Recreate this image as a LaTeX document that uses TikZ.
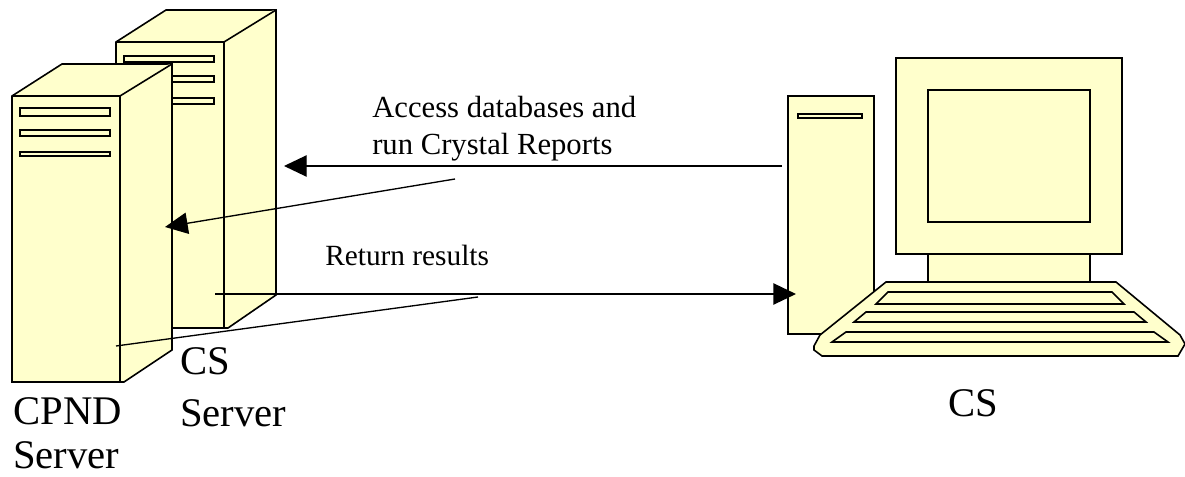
\documentclass[tikz,border=0pt]{standalone}
\usepackage{fontspec}
\setmainfont{Liberation Serif}
\usetikzlibrary{positioning,arrows.meta}

\begin{document}
\begin{tikzpicture}[x=0.75pt,y=-0.75pt,line join=miter,
    part/.style={draw=black, fill=cream, line width=1.2pt},
    slot/.style={draw=black, fill=cream, line width=1.2pt},
    link/.style={draw=black, line width=1pt},
    >={Triangle[length=17pt,width=16pt]},
    smalltag/.style={inner sep=0pt, align=left, anchor=north west, font=\fontsize{23}{28}\selectfont},
    bigtag/.style={inner sep=0pt, align=left, anchor=north west, font=\fontsize{30.5}{37.5}\selectfont}]
        \definecolor{cream}{HTML}{FFFFCC}
        \useasboundingbox (0,0) rectangle (1185,477);

        % CS server
        \draw[part] (116,42) -- (166,10) -- (276,10) -- (276,295) -- (228,328) -- (116,328) -- cycle;
        \draw[part] (116,42) -- (224,42) -- (276,10);
        \draw[part] (224,42) -- (224,328);
        \draw[slot] (124,56) rectangle (214,62);
        \draw[slot] (124,76) rectangle (214,82);
        \draw[slot] (124,98) rectangle (214,104);

        % CPND server
        \draw[part] (12,96) -- (62,64) -- (172,64) -- (172,350) -- (124,382) -- (12,382) -- cycle;
        \draw[part] (12,96) -- (120,96) -- (172,64);
        \draw[part] (120,96) -- (120,382);
        \draw[slot] (20,108) rectangle (110,116);
        \draw[slot] (20,130) rectangle (110,136);
        \draw[slot] (20,152) rectangle (110,156);

        % Computer
        \draw[part] (788,96) rectangle (874,334);
        \draw[slot] (798,114) rectangle (862,118);
        \draw[part] (928,254) rectangle (1090,284);
        \draw[part] (896,58) rectangle (1122,254);
        \draw[part] (928,90) rectangle (1090,222);
        \draw[part] (886,282) -- (1116,282) -- (1180,335) -- (1185,344) -- (1178,356) -- (822,356) -- (814,350) -- (814,346) -- (820,335) -- cycle;
        \draw[slot] (888,292) -- (1112,292) -- (1124,304) -- (876,304) -- cycle;
        \draw[slot] (866,312) -- (1134,312) -- (1146,322) -- (854,322) -- cycle;
        \draw[slot] (846,332) -- (1154,332) -- (1168,342) -- (832,342) -- cycle;

        % Nodes
        \node[smalltag] (access) at (372,96) {Access databases and\\run Crystal Reports};
        \node[smalltag,font=\fontsize{22}{27}\selectfont] (results) at (325,245) {Return results};
        \node[bigtag,font=\fontsize{30.5}{39}\selectfont] (csserver) at (180,347) {CS\\Server};
        \node[bigtag,font=\fontsize{30.5}{33}\selectfont] (cpnd) at (13,397) {CPND\\Server};
        \node[bigtag] (cs) at (948,389) {CS};

        % Ends of the arrows
        \coordinate (requestA) at (782,166);
        \coordinate (csIn) at (284,166);
        \coordinate (requestB) at (455,179);
        \coordinate (cpndIn) at (165,227);
        \coordinate (csOut) at (215,294);
        \coordinate (clientIn) at (796,294);
        \coordinate (cpndOut) at (116,346);
        \coordinate (joinOut) at (478,297);

        % Arrows
        \draw[link,->] (requestA) -- (csIn);
        \draw[link,->] (requestB) -- (cpndIn);
        \draw[link,->] (csOut) -- (clientIn);
        \draw[link] (cpndOut) -- (joinOut);
\end{tikzpicture}
\end{document}
